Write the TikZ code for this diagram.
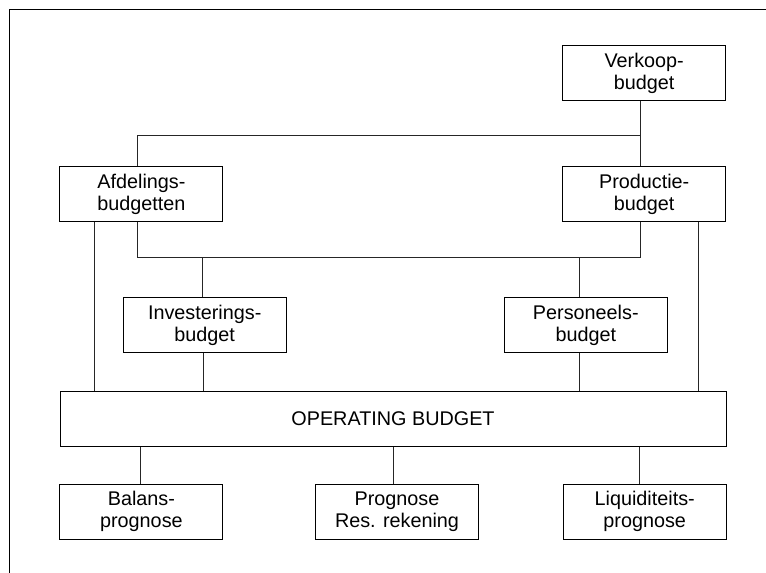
\documentclass[tikz,border=0pt]{standalone}
\usepackage{fontspec}
\setmainfont{Liberation Sans}
\usetikzlibrary{calc}
\tikzset{
  bx/.style={draw=black, line width=0.9pt, minimum width=163pt, minimum height=55pt, inner sep=0pt, align=center, font=\fontsize{19.8}{22}\selectfont},
  ln/.style={line width=0.9pt, draw=black!85},
  frm/.style={line width=1.4pt}
}
\begin{document}
\begin{tikzpicture}[x=1pt,y=-1pt]
\useasboundingbox (0,0) rectangle (766,573);
% frame
\coordinate (fTL) at (9.5,9.5);
\coordinate (fTR) at (766,9.5);
\coordinate (fBL) at (9.5,573);
\draw[frm] (fBL) -- (fTL) -- (fTR);
% nodes
\node[bx] (verkoop) at (644.2,72.9) {Verkoop-\\budget};
\node[bx] (productie) at (644.2,194.3) {Productie-\\budget};
\node[bx] (afd) at (141.4,194.3) {Afdelings-\\budgetten};
\node[bx] (invest) at (204.7,325.2) {Investerings-\\budget};
\node[bx] (pers) at (585.8,325.2) {Personeels-\\budget};
\node[bx, minimum width=666pt, minimum height=54.3pt] (op) at (393,418.9) {OPERATING BUDGET};
\node[bx] (balans) at (141.4,511.5) {Balans-\\prognose};
\node[bx] (prog) at (397,511.5) {Prognose\\Res. rekening};
\node[bx] (liq) at (644.7,511.5) {Liquiditeits-\\prognose};
% junction coordinates
\coordinate (top) at (640.2,135.3);
\coordinate (mid) at (641,257);
% connectors
\draw[ln] ([xshift=-4]verkoop.south) -- ([xshift=-4]productie.north);
\draw[ln] ([xshift=-3.7]afd.north) |- (top);
\draw[ln] ([xshift=-3.7]afd.south) |- (mid);
\draw[ln] ([xshift=-4]productie.south) -- ([xshift=-4]productie.south |- mid);
\draw[ln] ([xshift=-2.4]invest.north) -- ([xshift=-2.4]invest.north |- mid);
\draw[ln] ([xshift=-6.5]pers.north) -- ([xshift=-6.5]pers.north |- mid);
\draw[ln] ([xshift=-47.1]afd.south) -- ([xshift=-47.1]afd.south |- op.north);
\draw[ln] ([xshift=-1.4]invest.south) -- ([xshift=-1.4]invest.south |- op.north);
\draw[ln] ([xshift=-6.5]pers.south) -- ([xshift=-6.5]pers.south |- op.north);
\draw[ln] ([xshift=54.1]productie.south) -- ([xshift=54.1]productie.south |- op.north);
\draw[ln] ([xshift=-0.7]balans.north) -- ([xshift=-0.7]balans.north |- op.south);
\draw[ln] ([xshift=-3.3]prog.north) -- ([xshift=-3.3]prog.north |- op.south);
\draw[ln] ([xshift=-5.7]liq.north) -- ([xshift=-5.7]liq.north |- op.south);
\end{tikzpicture}
\end{document}
